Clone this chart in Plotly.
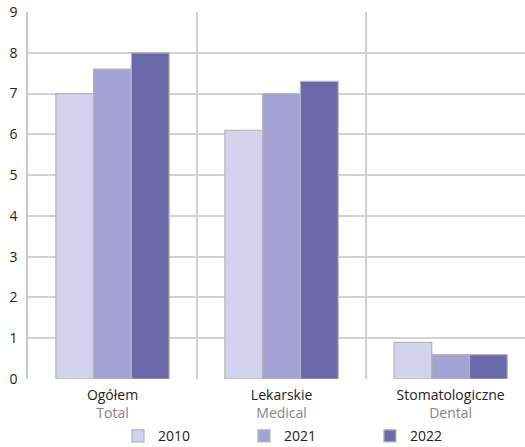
import plotly.graph_objects as go

categories_pl = ["Ogółem", "Lekarskie", "Stomatologiczne"]
categories_en = ["Total", "Medical", "Dental"]
years = ["2010", "2021", "2022"]
values_2010 = [7.0, 6.1, 0.9]
values_2021 = [7.6, 7.0, 0.6]
values_2022 = [8.0, 7.3, 0.6]
y_ticks = [0, 1, 2, 3, 4, 5, 6, 7, 8, 9]

colors = ["#d3d3ee", "#a4a2d3", "#6b69aa"]
series = [values_2010, values_2021, values_2022]

cats = [f"{p}<br><span style='color:#858585'>{e}</span>" for p, e in zip(categories_pl, categories_en)]

fig = go.Figure()
for name, vals, col in zip(years, series, colors):
    fig.add_trace(go.Bar(
        x=cats, y=vals, name=name,
        marker=dict(color=col, line=dict(color="#b4b4b4", width=1.2)),
    ))

fig.update_layout(
    width=525, height=447,
    margin=dict(l=28, r=0, t=12, b=68, autoexpand=False),
    paper_bgcolor="white", plot_bgcolor="white",
    barmode="group", bargap=0.33, bargroupgap=0,
    font=dict(family="Open Sans, Noto Sans, sans-serif", size=14, color="#222"),
    showlegend=True,
    legend=dict(orientation="h", x=0.181, xanchor="left", yref="container", y=0.024, yanchor="middle",
                entrywidth=81, entrywidthmode="pixels", font=dict(size=14),
                traceorder="normal", bgcolor="rgba(0,0,0,0)"),
    xaxis=dict(
        type="category", categoryorder="array", categoryarray=cats,
        range=[-0.5, 2.44], tickson="boundaries", showgrid=True,
        gridcolor="#cfcfcf", gridwidth=1.5, ticks="", zeroline=False,
        tickfont=dict(size=14), showline=False, automargin=False,
        ticklabelstandoff=6,
    ),
    yaxis=dict(
        range=[0, 9], tickvals=y_ticks, showgrid=True, gridcolor="#d2d2d2", gridwidth=1.5,
        zeroline=False, showline=True, linecolor="#c8c8c8", linewidth=1.5,
        ticks="", tickfont=dict(size=14), automargin=False, ticklabelstandoff=6,
        ticklabeloverflow="allow",
    ),
)

fig.write_html("out.html", config={"displayModeBar": False},
               post_script="document.body.style.margin='0';")
